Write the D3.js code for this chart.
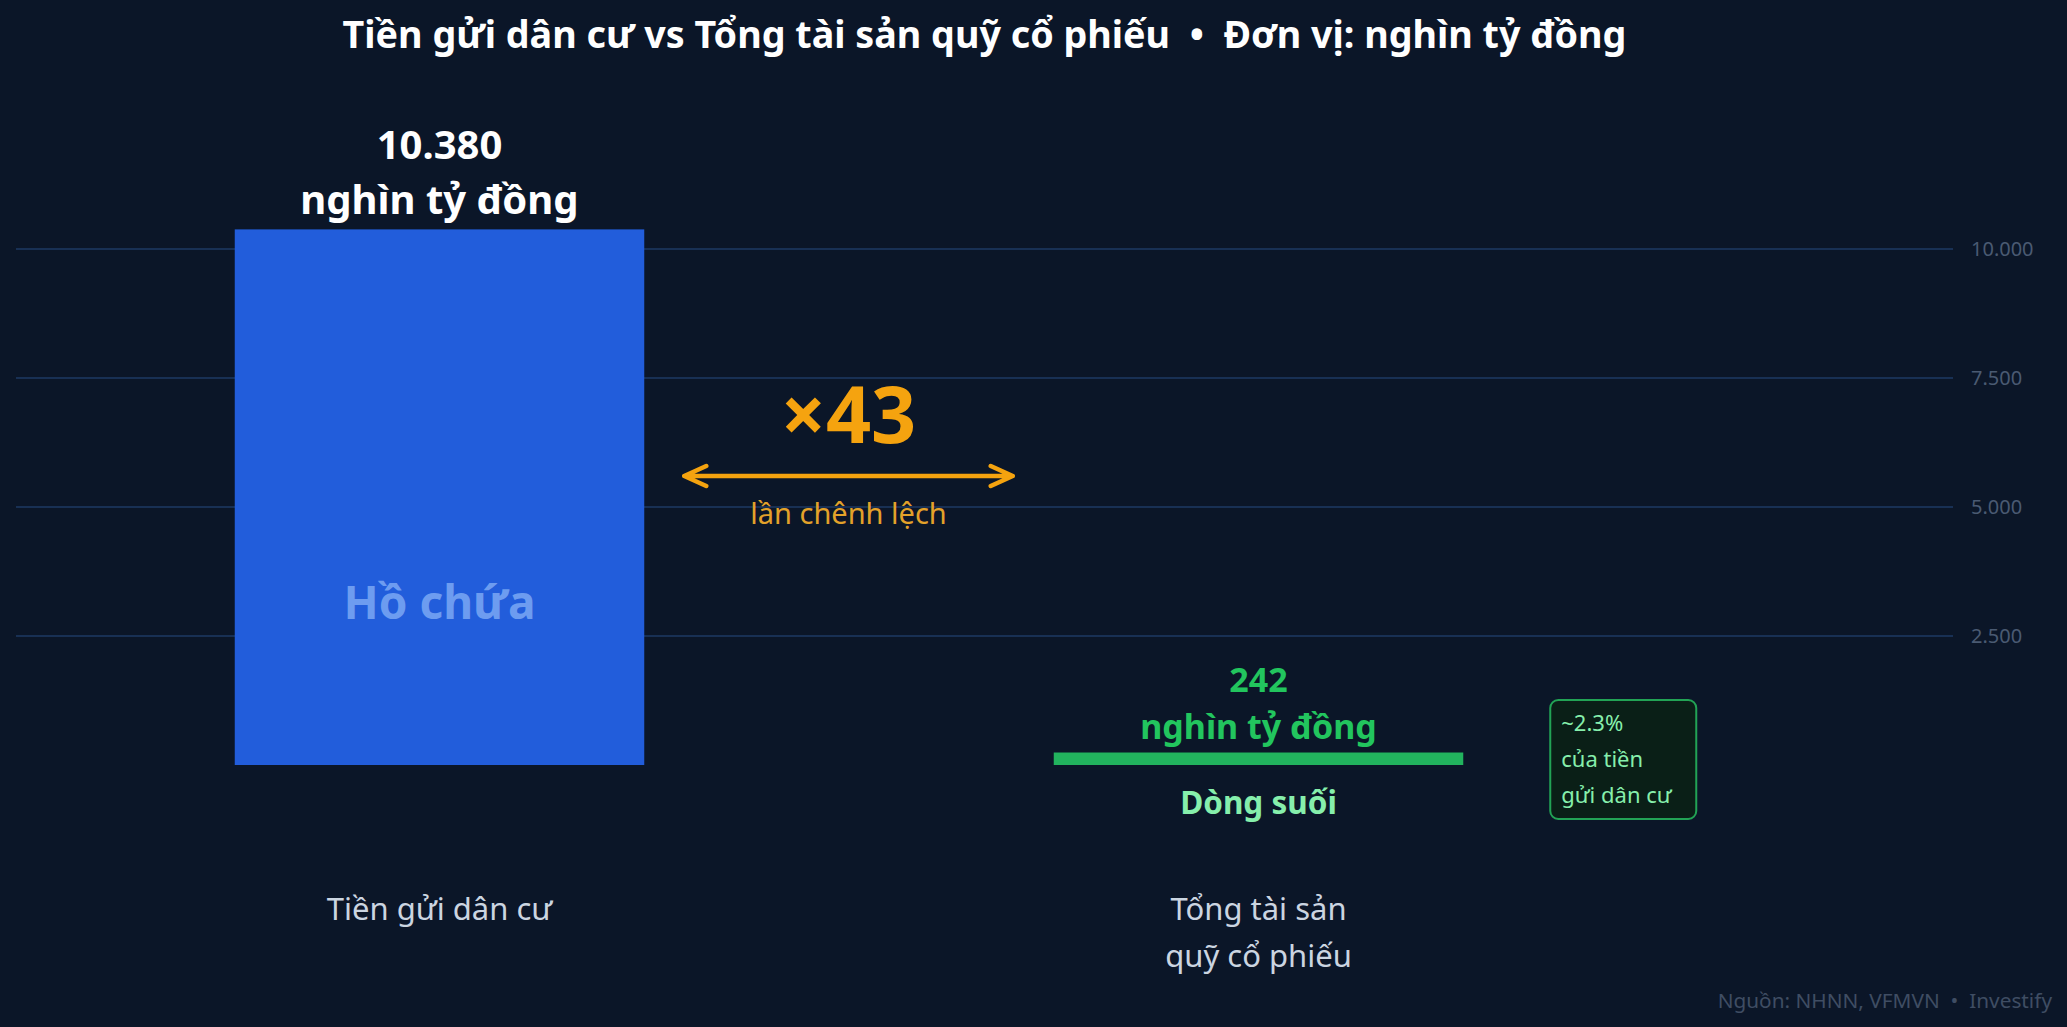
<!DOCTYPE html>
<html>
<head>
<meta charset="utf-8">
<script src="https://cdn.jsdelivr.net/npm/d3@7"></script>
<style>
  html, body { margin: 0; padding: 0; background: #0b1628; }
  svg { display: block; font-family: "Noto Sans", "Open Sans", sans-serif; }
  svg text { white-space: pre; }
</style>
</head>
<body>
<div id="chart"></div>
<script>
var width = 2067, height = 1027;

// data
var categories = ['Tiền gửi dân cư', 'Tổng tài sản quỹ cổ phiếu'];
var categoryLines = [['Tiền gửi dân cư'], ['Tổng tài sản', 'quỹ cổ phiếu']];
var values = [10380, 242];
var innerLabels = ['Hồ chứa', 'Dòng suối'];
var tickValues = [2500, 5000, 7500, 10000];
var unit = 'nghìn tỷ đồng';

var locale = d3.formatLocale({decimal: ',', thousands: '.', grouping: [3], currency: ['', '']});
var fmt = locale.format(',');

var svg = d3.select('#chart').append('svg')
    .attr('width', width)
    .attr('height', height);

svg.append('rect').attr('width', width).attr('height', height).attr('fill', '#0b1628');

var x = d3.scaleBand()
    .domain(categories)
    .range([30, 1668])
    .paddingInner(0.5)
    .paddingOuter(0.25);

var y = d3.scaleLinear()
    .domain([0, 12000])
    .range([765, 145.8]);

var gridLeft = 16, gridRight = 1953;

// title
svg.append('text')
    .attr('x', (gridLeft + gridRight) / 2)
    .attr('y', 48)
    .attr('text-anchor', 'middle')
    .attr('fill', '#ffffff')
    .attr('font-size', 37.7)
    .attr('font-weight', 700)
    .text('Tiền gửi dân cư vs Tổng tài sản quỹ cổ phiếu  •  Đơn vị: ' + unit);

// gridlines + right labels
var grid = svg.append('g');
grid.selectAll('line')
    .data(tickValues).enter()
    .append('line')
    .attr('x1', gridLeft).attr('x2', gridRight)
    .attr('y1', function(d) { return y(d); })
    .attr('y2', function(d) { return y(d); })
    .attr('stroke', '#1e3a63')
    .attr('stroke-width', 1.6);

grid.selectAll('text')
    .data(tickValues).enter()
    .append('text')
    .attr('x', 1971)
    .attr('y', function(d) { return y(d) + 7; })
    .attr('fill', '#4a5a72')
    .attr('font-size', 20)
    .text(function(d) { return fmt(d); });

// bars
var barColors = ['#225ddb', '#22b35e'];
svg.selectAll('rect.bar')
    .data(values).enter()
    .append('rect')
    .attr('class', 'bar')
    .attr('x', function(d, i) { return x(categories[i]); })
    .attr('y', function(d) { return y(d); })
    .attr('width', x.bandwidth())
    .attr('height', function(d) { return y(0) - y(d); })
    .attr('fill', function(d, i) { return barColors[i]; });

var cx0 = x(categories[0]) + x.bandwidth() / 2;
var cx1 = x(categories[1]) + x.bandwidth() / 2;

// value labels above bars
var big = svg.append('text')
    .attr('text-anchor', 'middle')
    .attr('fill', '#ffffff')
    .attr('font-weight', 700)
    .attr('font-size', 40);
big.append('tspan').attr('x', cx0).attr('y', y(values[0]) - 70).text(fmt(values[0]));
big.append('tspan').attr('x', cx0).attr('y', y(values[0]) - 15).text(unit);

var small = svg.append('text')
    .attr('text-anchor', 'middle')
    .attr('fill', '#22c55e')
    .attr('font-weight', 700)
    .attr('font-size', 34);
small.append('tspan').attr('x', cx1).attr('y', y(values[1]) - 61).text(fmt(values[1]));
small.append('tspan').attr('x', cx1).attr('y', y(values[1]) - 14).text(unit);

// inner labels
svg.append('text')
    .attr('x', cx0)
    .attr('y', 619)
    .attr('text-anchor', 'middle')
    .attr('fill', '#6d9cf0')
    .attr('font-weight', 700)
    .attr('font-size', 46)
    .text(innerLabels[0]);

svg.append('text')
    .attr('x', cx1)
    .attr('y', y(0) + 49)
    .attr('text-anchor', 'middle')
    .attr('fill', '#86efac')
    .attr('font-weight', 700)
    .attr('font-size', 31.5)
    .text(innerLabels[1]);

// ratio annotation
var ratio = Math.round(values[0] / values[1]);
var ax1 = x(categories[0]) + x.bandwidth() + 40;
var ax2 = x(categories[1]) - 41;
var axm = (ax1 + ax2) / 2;
var ay = 476;
var orange = '#f5a30f';

svg.append('text')
    .attr('x', axm)
    .attr('y', 443)
    .attr('text-anchor', 'middle')
    .attr('fill', orange)
    .attr('font-weight', 700)
    .attr('font-size', 79)
    .text('×' + ratio);

svg.append('path')
    .attr('d', 'M' + ax1 + ',' + ay + 'H' + ax2 +
               'M' + (ax1 + 22) + ',' + (ay - 10) + 'L' + ax1 + ',' + ay + 'L' + (ax1 + 22) + ',' + (ay + 10) +
               'M' + (ax2 - 22) + ',' + (ay - 10) + 'L' + ax2 + ',' + ay + 'L' + (ax2 - 22) + ',' + (ay + 10))
    .attr('fill', 'none')
    .attr('stroke', orange)
    .attr('stroke-width', 4.5)
    .attr('stroke-linecap', 'round')
    .attr('stroke-linejoin', 'round');

svg.append('text')
    .attr('x', axm)
    .attr('y', 524)
    .attr('text-anchor', 'middle')
    .attr('fill', '#e3a22a')
    .attr('font-size', 29)
    .text('lần chênh lệch');

// share box
var share = (values[1] / values[0] * 100).toFixed(1);
var boxX = x(categories[1]) + x.bandwidth() + 87;
var box = svg.append('g').attr('transform', 'translate(' + boxX + ',700)');
box.append('rect')
    .attr('width', 146).attr('height', 119)
    .attr('rx', 8).attr('ry', 8)
    .attr('fill', '#0a1f17')
    .attr('stroke', '#22a355')
    .attr('stroke-width', 2);
var boxText = box.append('text')
    .attr('fill', '#86efac')
    .attr('font-size', 22);
['~' + share + '%', 'của tiền', 'gửi dân cư'].forEach(function(t, i) {
    boxText.append('tspan').attr('x', 11).attr('y', 31 + i * 36).text(t);
});

// category labels
categoryLines.forEach(function(lines, i) {
    var t = svg.append('text')
        .attr('text-anchor', 'middle')
        .attr('fill', '#cbd5e1')
        .attr('font-size', 31);
    lines.forEach(function(l, j) {
        t.append('tspan')
            .attr('x', x(categories[i]) + x.bandwidth() / 2)
            .attr('y', 920 + j * 47)
            .text(l);
    });
});

// source
svg.append('text')
    .attr('x', 2052)
    .attr('y', 1008)
    .attr('text-anchor', 'end')
    .attr('fill', '#3f4d63')
    .attr('font-size', 20.8)
    .text('Nguồn: NHNN, VFMVN  •  Investify');
</script>
</body>
</html>
